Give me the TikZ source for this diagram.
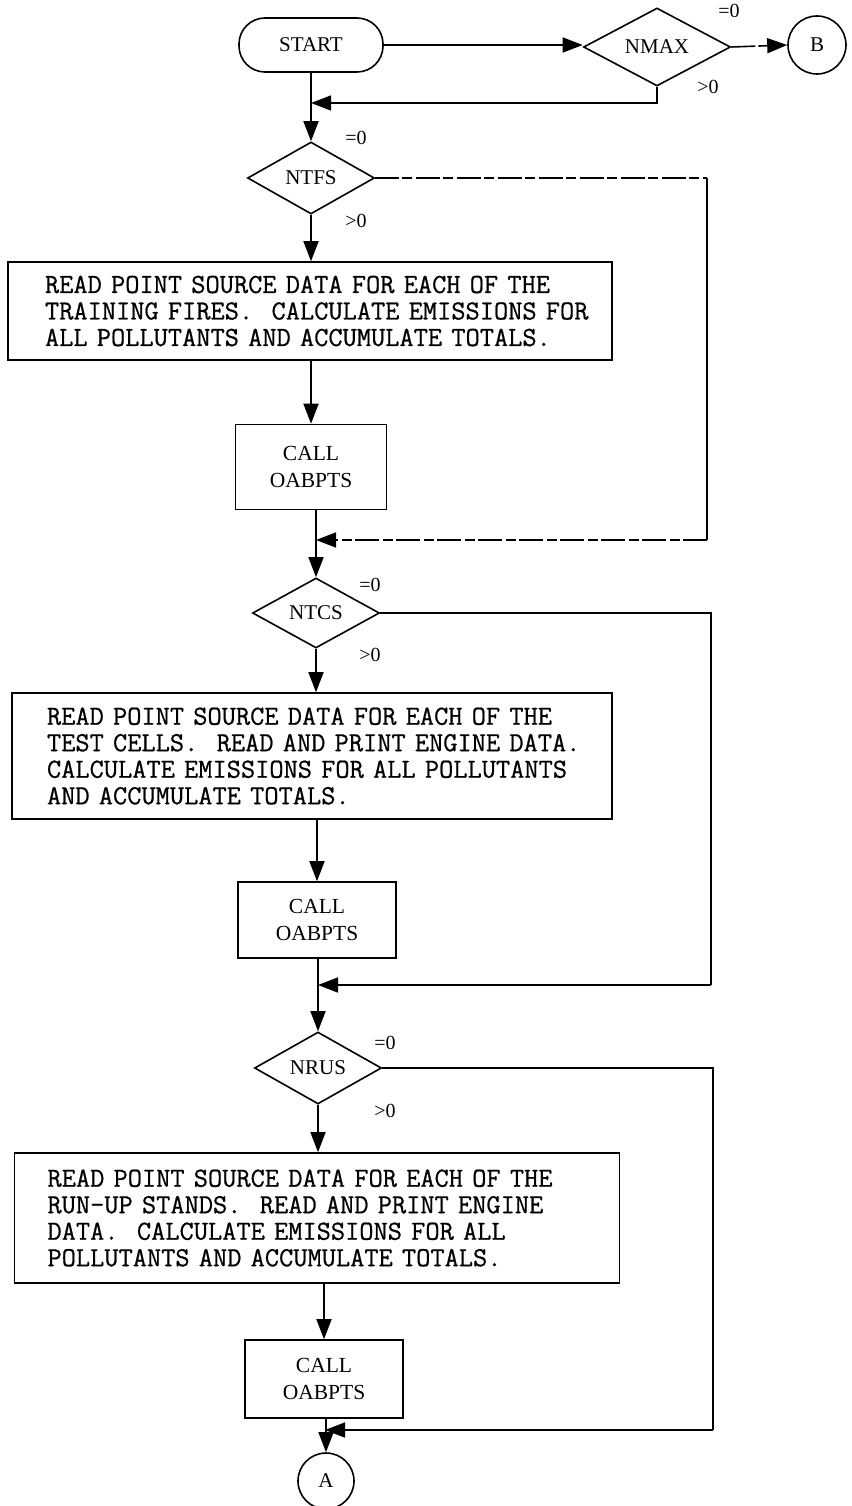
\documentclass[tikz,border=0pt]{standalone}
\usepackage{fontspec}
\setmainfont{Liberation Serif}
\newfontfamily\typer{Latin Modern Mono}[FakeBold=0.7]
\usetikzlibrary{shapes.geometric,arrows.meta}

% typewriter text: every space exactly one character wide
\newcommand{\typeset}{\typer\fontsize{27.6}{26.5}\selectfont
  \fontdimen2\font=\fontcharwd\font`A\fontdimen3\font=0pt\fontdimen4\font=0pt
  \fontdimen7\font=0pt\relax}
% one typed line, never broken
\newcommand{\tline}[1]{\mbox{#1}}

\begin{document}
\begin{tikzpicture}[x=1pt,y=-1pt,line width=1.6pt,
  tip/.style={-{Triangle[length=20pt,width=15pt]}},
  faint/.style={dash pattern=on 24pt off 3pt on 10pt off 4pt},
  terminal/.style={rectangle,draw,rounded corners=26pt,minimum width=144pt,minimum height=54pt,
    inner sep=0pt,font=\fontsize{21}{24}\selectfont},
  decision/.style={diamond,draw,minimum width=127pt,minimum height=72pt,inner sep=0pt,
    font=\fontsize{21}{24}\selectfont},
  process/.style={rectangle,draw,align=left,inner ysep=0pt,font=\typeset},
  callbox/.style={rectangle,draw,align=center,minimum width=155pt,minimum height=78pt,
    inner sep=0pt,font=\fontsize{21.5}{27}\selectfont},
  connector/.style={circle,draw,minimum size=58pt,inner sep=0pt,font=\fontsize{21}{24}\selectfont},
  lbl/.style={inner sep=0pt,font=\fontsize{20}{22}\selectfont}]
\useasboundingbox (0,0) rectangle (851,1506);

% ---- start and maximum check
\node[terminal] (start) at (311,45) {START};
\node[decision,minimum width=147pt,minimum height=66pt] (nmax) at (657,47) {NMAX};
\node[connector] (b) at (817,45) {B};
\node[lbl] (nmaxeq) at (729,11) {=0};
\node[lbl] (nmaxgt) at (708,87) {>0};
\coordinate (j0) at (311,103);

\draw[tip] (start.east) -- (start.east -| nmax.west);
\draw[tip,faint] (nmax.east) -- (b.west);
\draw[tip] (nmax.south) |- (j0);

% ---- training fires
\node[decision] (ntfs) at (311,178) {NTFS};
\node[lbl] (ntfseq) at (356,138) {=0};
\node[lbl] (ntfsgt) at (356,221) {>0};
\draw[tip] (start.south) -- (ntfs.north);

\node[process,text width=530pt,inner xsep=37pt,minimum height=98pt] (tf) at (310,311)
  {\tline{READ POINT SOURCE DATA FOR EACH OF THE}\\
   \tline{TRAINING FIRES.\ \ CALCULATE EMISSIONS FOR}\\
   \tline{ALL POLLUTANTS AND ACCUMULATE TOTALS.}};
\node[callbox,minimum width=151pt,minimum height=85pt] (call1) at (311,467) {CALL\\OABPTS};
\draw[tip] (ntfs.south) -- (ntfs.south |- tf.north);
\draw[tip] (ntfs.south |- tf.south) -- (call1.north);

\coordinate (r1a) at (707,178);
\coordinate (r1b) at (707,540);
\coordinate (j1) at (316,540);
\draw[faint] (ntfs.east) -- (r1a);
\draw (r1a) -- (r1b);
\draw[tip,faint] (r1b) -- (j1);

% ---- test cells
\node[decision,minimum height=70pt] (ntcs) at (316,613) {NTCS};
\node[lbl] (ntcseq) at (370,585) {=0};
\node[lbl] (ntcsgt) at (370,655) {>0};
\draw[tip] (ntcs.north |- call1.south) -- (ntcs.north);

\node[process,text width=530pt,inner xsep=35pt,minimum height=126pt] (tc) at (312,756)
  {\tline{READ POINT SOURCE DATA FOR EACH OF THE}\\
   \tline{TEST CELLS.\ \ READ AND PRINT ENGINE DATA.}\\
   \tline{CALCULATE EMISSIONS FOR ALL POLLUTANTS}\\
   \tline{AND ACCUMULATE TOTALS.}};
\node[callbox,minimum width=158pt,minimum height=76pt] (call2) at (317,920) {CALL\\OABPTS};
\draw[tip] (ntcs.south) -- (ntcs.south |- tc.north);
\draw[tip] (call2.north |- tc.south) -- (call2.north);

\coordinate (r2a) at (711,613);
\coordinate (r2b) at (711,985);
\coordinate (j2) at (318,985);
\draw (ntcs.east) -- (r2a) -- (r2b);
\draw[tip] (r2b) -- (j2);

% ---- run-up stands
\node[decision] (nrus) at (318,1068) {NRUS};
\node[lbl] (nruseq) at (385,1043) {=0};
\node[lbl] (nrusgt) at (385,1111) {>0};
\draw[tip] (nrus.north |- call2.south) -- (nrus.north);

\node[process,text width=539pt,inner xsep=33pt,minimum height=130pt] (ru) at (317,1218)
  {\tline{READ POINT SOURCE DATA FOR EACH OF THE}\\
   \tline{RUN-UP STANDS.\ \ READ AND PRINT ENGINE}\\
   \tline{DATA.\ \ CALCULATE EMISSIONS FOR ALL}\\
   \tline{POLLUTANTS AND ACCUMULATE TOTALS.}};
\node[callbox,minimum width=158pt,minimum height=78pt] (call3) at (324,1379) {CALL\\OABPTS};
\draw[tip] (nrus.south) -- (nrus.south |- ru.north);
\draw[tip] (call3.north |- ru.south) -- (call3.north);

\coordinate (r3a) at (713,1068);
\coordinate (r3b) at (713,1430);
\coordinate (j3) at (325,1430);
\draw (nrus.east) -- (r3a) -- (r3b);
\draw[tip] (r3b) -- (j3);

\node[connector,minimum size=56pt] (a) at (326,1481) {A};
\draw[tip] (call3.south -| a.north) -- (a.north);
\end{tikzpicture}
\end{document}
